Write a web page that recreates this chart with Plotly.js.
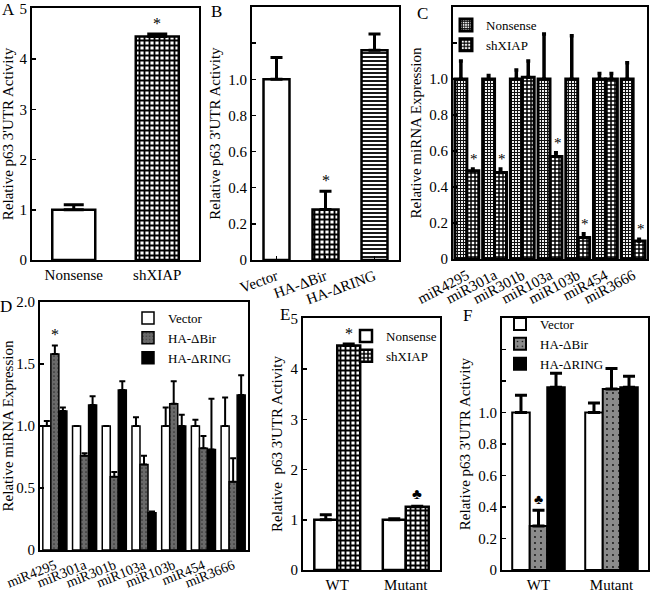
<!DOCTYPE html>
<html>
<head>
<meta charset="utf-8">
<script src="https://cdn.plot.ly/plotly-3.0.1.min.js"></script>
<style>body{margin:0;background:#fff}#grafico{width:650px;height:601px}</style>
</head>
<body>
<div id="grafico"></div>
<script>
// DATOS
// A
var catA = ["Nonsense", "shXIAP"];
var valA = [1.0, 4.45];
var errA = [0.10, 0.05];
// B
var catB = ["Vector", "HA-ΔBir", "HA-ΔRING"];
var valB = [1.0, 0.28, 1.16];
var errB = [0.12, 0.10, 0.09];
// C
var mirs = ["miR4295", "miR301a", "miR301b", "miR103a", "miR103b", "miR454", "miR3666"];
var nonC = [1, 1, 1, 1, 1, 1, 1];
var errNonC = [0.10, 0.02, 0.05, 0.25, 0.24, 0.03, 0.09];
var shC = [0.49, 0.48, 1.01, 0.57, 0.12, 1.0, 0.10];
var errShC = [0.01, 0.02, 0.09, 0.02, 0.02, 0.03, 0.01];
var starC = [1, 1, 0, 1, 1, 0, 1];
// D
var vecD = [1, 1, 1, 1, 1, 1, 1];
var errVecD = [0.04, 0.0, 0.0, 0.07, 0.15, 0.05, 0.23];
var birD = [1.58, 0.76, 0.59, 0.69, 1.18, 0.82, 0.55];
var errBirD = [0.07, 0.02, 0.04, 0.07, 0.18, 0.10, 0.19];
var ringD = [1.12, 1.17, 1.29, 0.30, 1.0, 0.81, 1.25];
var errRingD = [0.03, 0.07, 0.07, 0.01, 0.09, 0.41, 0.16];
// E
var catE = ["WT", "Mutant"];
var nonE = [1.0, 1.0];
var errNonE = [0.10, 0.02];
var shE = [4.47, 1.26];
var errShE = [0.03, 0.01];
// F
var vecF = [1.0, 1.0];
var errVecF = [0.11, 0.06];
var birF = [0.28, 1.15];
var errBirF = [0.10, 0.13];
var ringF = [1.16, 1.16];
var errRingF = [0.09, 0.07];

var fuente = "Liberation Serif, Times New Roman, serif";

// tramas
var ajedrez = { shape: "+", size: 5, solidity: 0.6, fgcolor: "black", bgcolor: "white" };
var rayas = { shape: "-", size: 4, solidity: 0.45, fgcolor: "black", bgcolor: "white" };
var finoC = { shape: "+", size: 3, solidity: 0.6, fgcolor: "#111", bgcolor: "white" };
var gruesoC = { shape: "+", size: 4, solidity: 0.6, fgcolor: "black", bgcolor: "white" };
var puntosD = { shape: ".", size: 4, solidity: 0.15, fgcolor: "#333", bgcolor: "#6a6a6a" };
var puntosF = { shape: ".", size: 6, solidity: 0.08, fgcolor: "#111", bgcolor: "#8a8a8a" };

function ceros(n) { var a = []; for (var i = 0; i < n; i++) a.push(0); return a; }

// o: x, y, err, eje, color, pat, lw, et, ew, nombre, leyenda, ancho, pos, total
function barra(o) {
  var s = o.eje > 1 ? o.eje : "";
  var t = {
    type: "bar", x: o.x, y: o.y, name: o.nombre,
    xaxis: "x" + s, yaxis: "y" + s,
    width: o.ancho, offset: -o.total * o.ancho / 2 + o.pos * o.ancho,
    marker: { color: o.color, line: { color: "black", width: o.lw } },
    error_y: { type: "data", symmetric: false, array: o.err, arrayminus: ceros(o.err.length),
      color: "black", thickness: o.et, width: o.ew },
    showlegend: !!o.leyenda, hoverinfo: "none"
  };
  if (o.pat) t.marker.pattern = o.pat;
  if (o.leyenda) t.legend = o.leyenda;
  return t;
}

var data = [];
// A: una traza por barra
var patA = [null, ajedrez];
for (var i = 0; i < catA.length; i++) {
  data.push(barra({ x: [catA[i]], y: [valA[i]], err: [errA[i]], eje: 1, color: "white", pat: patA[i],
    lw: 2.5, et: 3, ew: 10, nombre: catA[i], ancho: 0.515, pos: 0, total: 1 }));
}
// B
var patB = [null, ajedrez, rayas];
for (var i = 0; i < catB.length; i++) {
  data.push(barra({ x: [catB[i]], y: [valB[i]], err: [errB[i]], eje: 2, color: "white", pat: patB[i],
    lw: 2.5, et: 3, ew: 6, nombre: catB[i], ancho: 0.53, pos: 0, total: 1 }));
}
// C
var wC = 0.43;
data.push(barra({ x: mirs, y: nonC, err: errNonC, eje: 3, color: "white", pat: finoC, lw: 3, et: 3.5, ew: 2,
  nombre: "Nonsense", leyenda: "legend", ancho: wC, pos: 0, total: 2 }));
data.push(barra({ x: mirs, y: shC, err: errShC, eje: 3, color: "white", pat: gruesoC, lw: 3, et: 3.5, ew: 2,
  nombre: "shXIAP", leyenda: "legend", ancho: wC, pos: 1, total: 2 }));
// D
var wD = 0.27;
data.push(barra({ x: mirs, y: vecD, err: errVecD, eje: 4, color: "white", lw: 1.5, et: 2, ew: 3,
  nombre: "Vector", leyenda: "legend2", ancho: wD, pos: 0, total: 3 }));
data.push(barra({ x: mirs, y: birD, err: errBirD, eje: 4, color: "#6a6a6a", pat: puntosD, lw: 1.5, et: 2, ew: 3,
  nombre: "HA-ΔBir", leyenda: "legend2", ancho: wD, pos: 1, total: 3 }));
data.push(barra({ x: mirs, y: ringD, err: errRingD, eje: 4, color: "black", lw: 1.5, et: 2, ew: 3,
  nombre: "HA-ΔRING", leyenda: "legend2", ancho: wD, pos: 2, total: 3 }));
// E
var wE = 0.335;
data.push(barra({ x: catE, y: nonE, err: errNonE, eje: 5, color: "white", lw: 2.5, et: 3, ew: 6,
  nombre: "Nonsense", leyenda: "legend3", ancho: wE, pos: 0, total: 2 }));
data.push(barra({ x: catE, y: shE, err: errShE, eje: 5, color: "white", pat: ajedrez, lw: 2.5, et: 3, ew: 6,
  nombre: "shXIAP", leyenda: "legend3", ancho: wE, pos: 1, total: 2 }));
// F
var wF = 0.24;
data.push(barra({ x: catE, y: vecF, err: errVecF, eje: 6, color: "white", lw: 2, et: 3, ew: 6,
  nombre: "Vector", leyenda: "legend4", ancho: wF, pos: 0, total: 3 }));
data.push(barra({ x: catE, y: birF, err: errBirF, eje: 6, color: "#8a8a8a", pat: puntosF, lw: 2, et: 3, ew: 6,
  nombre: "HA-ΔBir", leyenda: "legend4", ancho: wF, pos: 1, total: 3 }));
data.push(barra({ x: catE, y: ringF, err: errRingF, eje: 6, color: "black", lw: 2, et: 3, ew: 6,
  nombre: "HA-ΔRING", leyenda: "legend4", ancho: wF, pos: 2, total: 3 }));

function ejeX(dom, anchor, ang, ticks, tam) {
  return {
    domain: dom, anchor: anchor, type: "category", showline: true, mirror: true,
    linecolor: "black", linewidth: 2, showgrid: false, zeroline: false,
    ticks: ticks ? "inside" : "", ticklen: 4, tickwidth: 1.5, tickcolor: "black",
    tickangle: ang, tickfont: { family: fuente, size: tam || 15, color: "black" }, fixedrange: true
  };
}
function ejeY(dom, anchor, rango, vals, textos, titulo) {
  return {
    domain: dom, anchor: anchor, range: rango, showline: true, mirror: true,
    linecolor: "black", linewidth: 2, showgrid: false, zeroline: false,
    ticks: "inside", ticklen: 4, tickwidth: 1.5, tickcolor: "black",
    tickvals: vals, ticktext: textos,
    tickfont: { family: fuente, size: 15, color: "black" },
    title: { text: titulo, font: { family: fuente, size: 15, color: "black" }, standoff: 4 },
    fixedrange: true
  };
}

var px = function (a, b) { return [a / 650, b / 650]; };
var py = function (top, bot) { return [1 - bot / 601, 1 - top / 601]; };

var tituloP63 = "Relative p63 3'UTR Activity";
var tituloMir = "Relative miRNA Expression";

// anotaciones: estrellas y treboles
var anot = [];
function marca(txt, x, y, ejeN, tam) {
  var s = ejeN > 1 ? ejeN : "";
  anot.push({ text: txt, x: x, y: y, xref: "x" + s, yref: "y" + s, showarrow: false,
    yanchor: "bottom", font: { family: fuente, size: tam || 16, color: "black" } });
}
marca("*", 1, valA[1] + errA[1], 1);
marca("*", 1, valB[1] + errB[1], 2);
for (var i = 0; i < mirs.length; i++) {
  if (starC[i]) marca("*", i + wC / 2 + 0.06, shC[i] + errShC[i], 3, 15);
}
marca("*", 0, birD[0] + errBirD[0], 4);
marca("*", 0 + wE / 2, shE[0] + errShE[0], 5);
marca("♣", 1 + wE / 2, shE[1] + errShE[1] + 0.05, 5, 15);
marca("♣", 0, birF[0] + errBirF[0] + 0.01, 6, 14);

var letras = [["A", 8, 10], ["B", 216, 12], ["C", 422, 14], ["D", 6, 306], ["E", 285, 314], ["F", 467, 315]];
letras.forEach(function (l) {
  anot.push({ text: l[0], x: l[1] / 650, y: 1 - l[2] / 601, xref: "paper", yref: "paper",
    xanchor: "center", yanchor: "middle", showarrow: false,
    font: { family: fuente, size: 17, color: "black" } });
});

function leyenda(x, y) {
  return { x: x, y: y, xanchor: "left", yanchor: "top", bgcolor: "rgba(0,0,0,0)",
    font: { family: fuente, size: 13, color: "black" }, tracegroupgap: 0, itemwidth: 30 };
}

var layout = {
  width: 650, height: 601, margin: { l: 0, r: 0, t: 0, b: 0 },
  paper_bgcolor: "white", plot_bgcolor: "white", barmode: "overlay", showlegend: true,
  xaxis: ejeX(px(32, 199), "y", 0, false),
  yaxis: ejeY(py(8, 260), "x", [0, 5.02], [0, 1, 2, 3, 4, 5], ["0", "1", "2", "3", "4", "5"], tituloP63),
  xaxis2: ejeX(px(252, 399), "y2", -20, true),
  yaxis2: ejeY(py(7, 260), "x2", [0, 1.4], [0, 0.2, 0.4, 0.6, 0.8, 1.0, 1.2], ["0", "0.2", "0.4", "0.6", "0.8", "1.0", ""], tituloP63),
  xaxis3: ejeX(px(453, 647), "y3", -28, false),
  yaxis3: ejeY(py(7, 259), "x3", [0, 1.4], [0, 0.2, 0.4, 0.6, 0.8, 1.0, 1.2], ["0", "0.2", "0.4", "0.6", "0.8", "1.0", ""], tituloMir),
  xaxis4: ejeX(px(40, 248), "y4", -22, false, 14),
  yaxis4: ejeY(py(302, 550), "x4", [0, 2.0], [0, 0.5, 1.0, 1.5, 2.0], ["0", "0.5", "1.0", "1.5", "2.0"], tituloMir),
  xaxis5: ejeX(px(303, 440), "y5", 0, false),
  yaxis5: ejeY(py(318, 570), "x5", [0, 5.02], [0, 1, 2, 3, 4, 5], ["0", "1", "2", "3", "4", "5"], "Relative  p63 3'UTR Activity"),
  xaxis6: ejeX(px(502, 648), "y6", 0, false),
  yaxis6: ejeY(py(318, 570), "x6", [0, 1.6], [0, 0.2, 0.4, 0.6, 0.8, 1.0, 1.2, 1.4], ["0", "0.2", "0.4", "0.6", "0.8", "1.0", "", ""], tituloP63),
  legend: leyenda(446 / 650, 1 - 10 / 601),
  legend2: leyenda(128 / 650, 1 - 303 / 601),
  legend3: leyenda(346 / 650, 1 - 321 / 601),
  legend4: leyenda(500 / 650, 1 - 309 / 601),
  annotations: anot
};

Plotly.newPlot("grafico", data, layout, { displayModeBar: false, staticPlot: true });
</script>
</body>
</html>
